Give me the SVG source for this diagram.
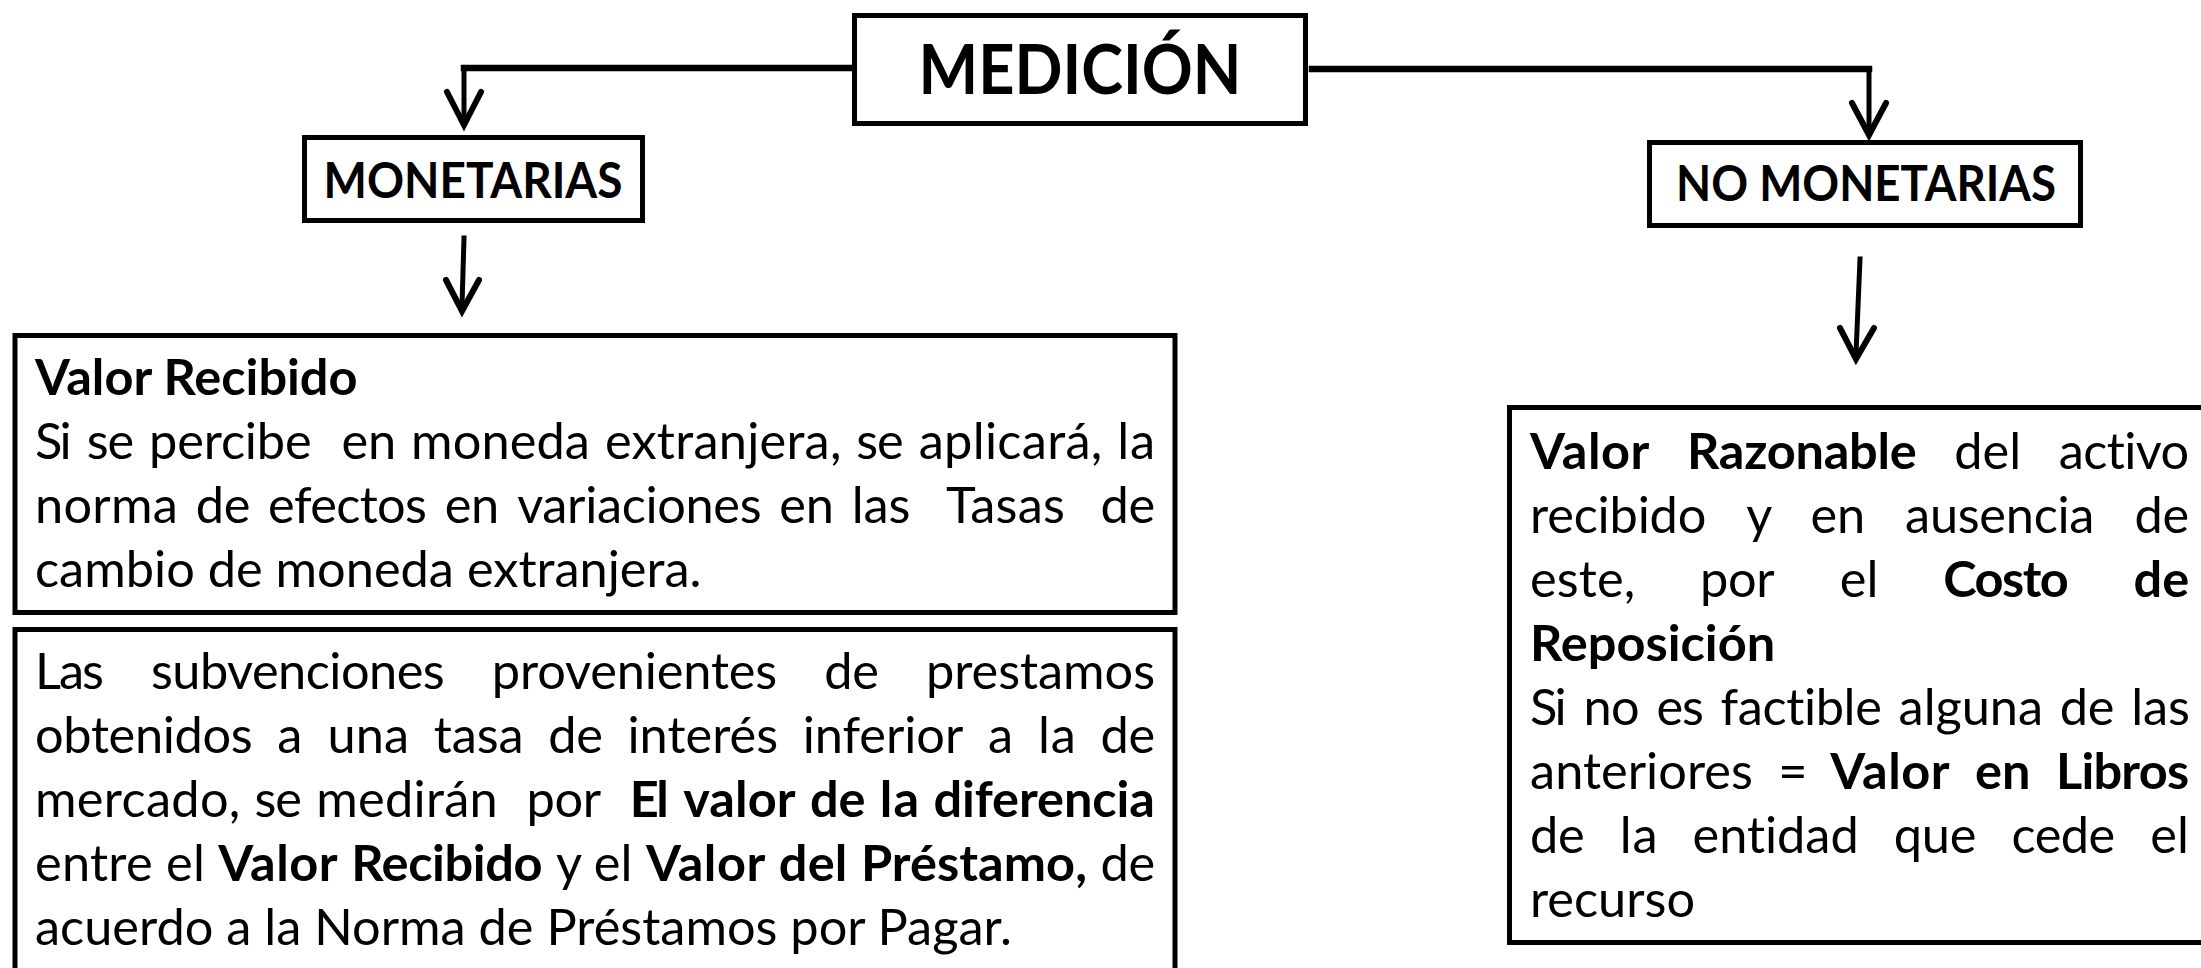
<svg xmlns="http://www.w3.org/2000/svg" width="2201" height="968" viewBox="0 0 2201 968">
<style>
.box{fill:#fff;stroke:#000;stroke-width:5}
.t{font-family:Lato,"Liberation Sans",sans-serif;font-size:50.5px;fill:#000;font-variant-ligatures:none;font-feature-settings:"liga" 0,"clig" 0,"dlig" 0}
.b{font-weight:bold}
.h{font-family:Lato,"Liberation Sans",sans-serif;font-weight:bold;fill:#000;text-anchor:middle;font-variant-ligatures:none}
.ln{fill:none;stroke:#000;stroke-linecap:square}
.ah{fill:none;stroke:#000;stroke-width:6;stroke-linejoin:miter;stroke-linecap:round}
</style>
<rect width="2201" height="968" fill="#fff"/>
<g id="connectors">
<path class="ln" d="M852 68 H464" stroke-width="6.5"/>
<path class="ln" d="M464 68 V122" stroke-width="5"/>
<polyline class="ah" points="447,92 464,125 481,92"/>
<path class="ln" d="M1312 69 H1869" stroke-width="6.5"/>
<path class="ln" d="M1869 69 V131" stroke-width="5"/>
<polyline class="ah" points="1852,103 1869,135 1886,103"/>
<path class="ln" d="M464 238 L462 306" stroke-width="5"/>
<polyline class="ah" points="446,280 462,311 479,280"/>
<path class="ln" d="M1860 259 L1856 354" stroke-width="5"/>
<polyline class="ah" points="1840,328 1856,359 1874,328"/>
</g>
<g id="medicion">
<rect class="box" x="854.5" y="15.5" width="451" height="108"/>
<text class="h" x="1080" y="94" font-size="68" textLength="323" lengthAdjust="spacingAndGlyphs">MEDICIÓN</text>
</g>
<g id="monetarias">
<rect class="box" x="304.5" y="137.5" width="338" height="83"/>
<text class="h" x="473" y="198" font-size="50" textLength="299" lengthAdjust="spacingAndGlyphs">MONETARIAS</text>
</g>
<g id="no-monetarias">
<rect class="box" x="1649.5" y="142.5" width="431" height="83"/>
<text class="h" x="1866" y="201" font-size="50" textLength="380" lengthAdjust="spacingAndGlyphs">NO MONETARIAS</text>
</g>
<g id="valor-recibido">
<rect class="box" x="15" y="335.5" width="1160" height="277"/>
<text class="t b" x="35" y="395">Valor Recibido</text>
<text class="t" y="459" lengthAdjust="spacingAndGlyphs"><tspan x="35" textLength="36.7">Si</tspan><tspan x="86.7" textLength="47.4">se</tspan><tspan x="149.1" textLength="162.5">percibe</tspan><tspan x="341.5" textLength="54.6">en</tspan><tspan x="411.1" textLength="178.8">moneda</tspan><tspan x="604.9" textLength="236.5">extranjera,</tspan><tspan x="856.3" textLength="47.4">se</tspan><tspan x="918.7" textLength="183.6">aplicará,</tspan><tspan x="1117.2" textLength="37.8">la</tspan></text>
<text class="t" y="523" lengthAdjust="spacingAndGlyphs"><tspan x="35" textLength="142.9">norma</tspan><tspan x="195.7" textLength="54.6">de</tspan><tspan x="268.1" textLength="158.8">efectos</tspan><tspan x="444.7" textLength="54.6">en</tspan><tspan x="517.2" textLength="244.3">variaciones</tspan><tspan x="779.3" textLength="54.6">en</tspan><tspan x="851.7" textLength="58.6">las</tspan><tspan x="946" textLength="118.8">Tasas</tspan><tspan x="1100.5" textLength="54.6">de</tspan></text>
<text class="t" x="35" y="587">cambio de moneda extranjera.</text>
</g>
<g id="subvenciones">
<rect class="box" x="15" y="629.5" width="1160" height="360"/>
<text class="t" y="689" lengthAdjust="spacingAndGlyphs"><tspan x="35" textLength="68.8">Las</tspan><tspan x="150.9" textLength="293.8">subvenciones</tspan><tspan x="491.8" textLength="285.4">provenientes</tspan><tspan x="824.3" textLength="54.6">de</tspan><tspan x="926" textLength="229">prestamos</tspan></text>
<text class="t" y="753" lengthAdjust="spacingAndGlyphs"><tspan x="35" textLength="217.7">obtenidos</tspan><tspan x="277.3">a</tspan><tspan x="327.5" textLength="81.5">una</tspan><tspan x="433.7" textLength="89.8">tasa</tspan><tspan x="548.2" textLength="54.6">de</tspan><tspan x="627.4" textLength="150.7">interés</tspan><tspan x="802.7" textLength="160.6">inferior</tspan><tspan x="987.9">a</tspan><tspan x="1038.1" textLength="37.8">la</tspan><tspan x="1100.5" textLength="54.6">de</tspan></text>
<text class="t" y="817" lengthAdjust="spacingAndGlyphs"><tspan x="35" textLength="205.3">mercado,</tspan><tspan x="254.6" textLength="47.4">se</tspan><tspan x="316.3" textLength="181.5">medirán</tspan><tspan x="526.5" textLength="74.7">por</tspan><tspan class="b" x="629.8" textLength="39.1">El</tspan><tspan class="b" x="683.2" textLength="112.4">valor</tspan><tspan class="b" x="809.9" textLength="55.5">de</tspan><tspan class="b" x="879.7" textLength="39.5">la</tspan><tspan class="b" x="933.4" textLength="221.6">diferencia</tspan></text>
<text class="t" y="881" lengthAdjust="spacingAndGlyphs"><tspan x="35" textLength="117.6">entre</tspan><tspan x="166.1" textLength="38.8">el</tspan><tspan class="b" x="218.3" textLength="119.4">Valor</tspan><tspan class="b" x="351.2" textLength="191.3">Recibido</tspan><tspan x="556">y</tspan><tspan x="593.7" textLength="38.8">el</tspan><tspan class="b" x="645.9" textLength="119.4">Valor</tspan><tspan class="b" x="778.8" textLength="68.6">del</tspan><tspan class="b" x="860.9" textLength="226.1">Préstamo,</tspan><tspan x="1100.5" textLength="54.6">de</tspan></text>
<text class="t" x="35" y="945">acuerdo a la Norma de Préstamos por Pagar.</text>
</g>
<g id="valor-razonable">
<rect class="box" x="1509.5" y="407.5" width="720" height="535"/>
<text class="t" y="469" lengthAdjust="spacingAndGlyphs"><tspan class="b" x="1530" textLength="119.4">Valor</tspan><tspan class="b" x="1687" textLength="229.7">Razonable</tspan><tspan x="1954.3" textLength="66.8">del</tspan><tspan x="2058.7" textLength="130.4">activo</tspan></text>
<text class="t" y="533" lengthAdjust="spacingAndGlyphs"><tspan x="1530" textLength="176.3">recibido</tspan><tspan x="1746.3">y</tspan><tspan x="1810.5" textLength="54.6">en</tspan><tspan x="1905.1" textLength="189.3">ausencia</tspan><tspan x="2134.5" textLength="54.6">de</tspan></text>
<text class="t" y="597" lengthAdjust="spacingAndGlyphs"><tspan x="1530" textLength="105.2">este,</tspan><tspan x="1700" textLength="74.7">por</tspan><tspan x="1839.7" textLength="38.8">el</tspan><tspan class="b" x="1943.3" textLength="125.4">Costo</tspan><tspan class="b" x="2133.6" textLength="55.5">de</tspan></text>
<text class="t b" x="1530" y="661">Reposición</text>
<text class="t" y="725" lengthAdjust="spacingAndGlyphs"><tspan x="1530" textLength="36.7">Si</tspan><tspan x="1583.5" textLength="56.1">no</tspan><tspan x="1656.4" textLength="47.4">es</tspan><tspan x="1720.6" textLength="161.2">factible</tspan><tspan x="1898.6" textLength="144.4">alguna</tspan><tspan x="2059.8" textLength="54.6">de</tspan><tspan x="2131.2" textLength="58.6">las</tspan></text>
<text class="t" y="789" lengthAdjust="spacingAndGlyphs"><tspan x="1530" textLength="222.9">anteriores</tspan><tspan x="1778.3">=</tspan><tspan class="b" x="1830.3" textLength="119.4">Valor</tspan><tspan class="b" x="1975.1" textLength="55.5">en</tspan><tspan class="b" x="2056" textLength="133.1">Libros</tspan></text>
<text class="t" y="853" lengthAdjust="spacingAndGlyphs"><tspan x="1530" textLength="54.6">de</tspan><tspan x="1619.7" textLength="37.8">la</tspan><tspan x="1692.5" textLength="166.2">entidad</tspan><tspan x="1893.8" textLength="82.6">que</tspan><tspan x="2011.5" textLength="103.7">cede</tspan><tspan x="2150.2" textLength="38.8">el</tspan></text>
<text class="t" x="1530" y="917">recurso</text>
</g>
</svg>
